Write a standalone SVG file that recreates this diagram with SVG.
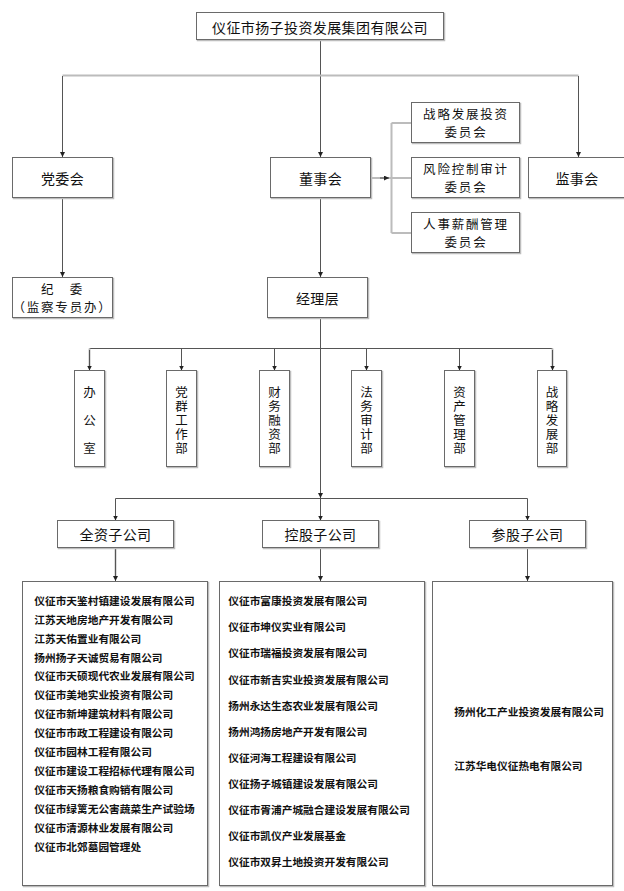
<svg xmlns="http://www.w3.org/2000/svg" width="624" height="891" viewBox="0 0 624 891">
<defs>
<style>
.bx{fill:#fff;stroke:#6a6a6a;stroke-width:1}
.sh{fill:none;stroke:#bdbdbd;stroke-width:1.5}
.t{font-family:"Noto Sans CJK SC","Noto Sans",sans-serif;font-size:14px;fill:#111;text-anchor:middle;dominant-baseline:central;letter-spacing:0.4px}
.t2{font-size:12.5px;letter-spacing:1.8px}
.v{font-family:"Noto Sans CJK SC","Noto Sans",sans-serif;font-size:12.5px;fill:#111;writing-mode:vertical-rl;text-orientation:upright;letter-spacing:1.65px}
.v3{letter-spacing:15.8px}
.l{font-family:"Noto Sans CJK SC","Noto Sans",sans-serif;font-size:10.7px;font-weight:bold;fill:#111;dominant-baseline:central}
.c{fill:none;stroke:#555;stroke-width:1}
.g{fill:none;stroke:#bcbcbc;stroke-width:2}
</style>
<marker id="a" markerUnits="userSpaceOnUse" markerWidth="6" markerHeight="6" refX="5" refY="2.5" orient="auto">
<path d="M0,0 L5,2.5 L0,5 z" fill="#222"/>
</marker>
</defs>
<rect width="624" height="891" fill="#fff"/>

<g id="connectors">
<path class="c" d="M320.5,40 V157" marker-end="url(#a)"/>
<path class="g" d="M62.5,75.5 H578.5"/>
<path class="c" d="M62.5,76 V157" marker-end="url(#a)"/>
<path class="c" d="M578.5,76 V157" marker-end="url(#a)"/>
<path class="g" d="M371,178 H391.5"/>
<path class="c" d="M380,178 H389" marker-end="url(#a)"/>
<path class="g" d="M391.5,123 V233 M391.5,123 H411.5 M391.5,178 H411.5 M391.5,233 H411.5"/>
<path class="c" d="M62.5,198.5 V277" marker-end="url(#a)"/>
<path class="c" d="M320.5,198.5 V277" marker-end="url(#a)"/>
<path class="c" d="M320.5,318.5 V498" marker-end="url(#a)"/>
<path class="c" d="M89.5,348.5 H552.5"/>
<path class="g" d="M89.5,348.5 V366"/>
<path class="c" d="M89.5,350 V370.5" marker-end="url(#a)"/>
<path class="c" d="M181.5,348.5 V370.5" marker-end="url(#a)"/>
<path class="c" d="M274.5,348.5 V370.5" marker-end="url(#a)"/>
<path class="c" d="M366.5,348.5 V370.5" marker-end="url(#a)"/>
<path class="c" d="M459.5,348.5 V370.5" marker-end="url(#a)"/>
<path class="g" d="M552.5,348.5 V366"/>
<path class="c" d="M552.5,350 V370.5" marker-end="url(#a)"/>
<path class="c" d="M115.5,498.5 H527.5"/>
<path class="c" d="M115.5,498.5 V520.5" marker-end="url(#a)"/>
<path class="c" d="M320.5,498.5 V520.5" marker-end="url(#a)"/>
<path class="c" d="M527.5,498.5 V520.5" marker-end="url(#a)"/>
<path class="g" d="M115.5,549 V576"/>
<path class="c" d="M115.5,549 V581" marker-end="url(#a)"/>
<path class="c" d="M320.5,549 V581" marker-end="url(#a)"/>
<path class="c" d="M527.5,549 V581" marker-end="url(#a)"/>
</g>

<g id="group">
<rect class="sh" x="197.5" y="13.5" width="247" height="27"/>
<rect class="bx" x="196.5" y="12.5" width="247" height="27"/>
<text class="t" x="320" y="26.5">仪征市扬子投资发展集团有限公司</text>
</g>

<g id="dangwei">
<rect class="sh" x="13.5" y="158.5" width="100" height="40"/>
<rect class="bx" x="12.5" y="157.5" width="100" height="40"/>
<text class="t" x="62.5" y="178">党委会</text>
</g>

<g id="dongshi">
<rect class="sh" x="271.5" y="158.5" width="100" height="40"/>
<rect class="bx" x="270.5" y="157.5" width="100" height="40"/>
<text class="t" x="320.5" y="178">董事会</text>
</g>

<g id="jianshi">
<rect class="sh" x="529.5" y="158.5" width="100" height="40"/>
<rect class="bx" x="528.5" y="157.5" width="100" height="40"/>
<text class="t" x="577" y="178">监事会</text>
</g>

<g id="cmt1">
<rect class="sh" x="412.5" y="103.5" width="108" height="40"/>
<rect class="bx" x="411.5" y="102.5" width="108" height="40"/>
<text class="t t2" x="466" y="113.5">战略发展投资</text>
<text class="t t2" x="466" y="131.7">委员会</text>
</g>

<g id="cmt2">
<rect class="sh" x="412.5" y="158.5" width="108" height="40"/>
<rect class="bx" x="411.5" y="157.5" width="108" height="40"/>
<text class="t t2" x="466" y="168.5">风险控制审计</text>
<text class="t t2" x="466" y="186.7">委员会</text>
</g>

<g id="cmt3">
<rect class="sh" x="412.5" y="213.5" width="108" height="40"/>
<rect class="bx" x="411.5" y="212.5" width="108" height="40"/>
<text class="t t2" x="466" y="223.5">人事薪酬管理</text>
<text class="t t2" x="466" y="241.7">委员会</text>
</g>

<g id="jiwei">
<rect class="sh" x="13.5" y="278.5" width="100" height="40"/>
<rect class="bx" x="12.5" y="277.5" width="100" height="40"/>
<text class="t t2" x="62.5" y="288.5">纪　委</text>
<text class="t t2" x="62.5" y="306.7">（监察专员办）</text>
</g>

<g id="jingli">
<rect class="sh" x="268.5" y="278.5" width="100" height="40"/>
<rect class="bx" x="267.5" y="277.5" width="100" height="40"/>
<text class="t" x="317.5" y="297.5">经理层</text>
</g>

<g id="d1">
<rect class="sh" x="75.5" y="371.5" width="30" height="96"/>
<rect class="bx" x="74.5" y="370.5" width="30" height="96"/>
<text class="v v3" x="89.5" y="385.5">办公室</text>
</g>
<g id="d2">
<rect class="sh" x="167.5" y="371.5" width="30" height="96"/>
<rect class="bx" x="166.5" y="370.5" width="30" height="96"/>
<text class="v" x="181.5" y="385.5">党群工作部</text>
</g>
<g id="d3">
<rect class="sh" x="260.5" y="371.5" width="30" height="96"/>
<rect class="bx" x="259.5" y="370.5" width="30" height="96"/>
<text class="v" x="274.5" y="385.5">财务融资部</text>
</g>
<g id="d4">
<rect class="sh" x="352.5" y="371.5" width="30" height="96"/>
<rect class="bx" x="351.5" y="370.5" width="30" height="96"/>
<text class="v" x="366.5" y="385.5">法务审计部</text>
</g>
<g id="d5">
<rect class="sh" x="445.5" y="371.5" width="30" height="96"/>
<rect class="bx" x="444.5" y="370.5" width="30" height="96"/>
<text class="v" x="459.5" y="385.5">资产管理部</text>
</g>
<g id="d6">
<rect class="sh" x="538.5" y="371.5" width="29" height="96"/>
<rect class="bx" x="537.5" y="370.5" width="29" height="96"/>
<text class="v" x="552" y="385.5">战略发展部</text>
</g>

<g id="s1">
<rect class="sh" x="58.5" y="521.5" width="116" height="27"/>
<rect class="bx" x="57.5" y="520.5" width="116" height="27"/>
<text class="t" x="115.5" y="534">全资子公司</text>
</g>
<g id="s2">
<rect class="sh" x="263.5" y="521.5" width="116" height="27"/>
<rect class="bx" x="262.5" y="520.5" width="116" height="27"/>
<text class="t" x="320.5" y="534">控股子公司</text>
</g>
<g id="s3">
<rect class="sh" x="470.5" y="521.5" width="116" height="27"/>
<rect class="bx" x="469.5" y="520.5" width="116" height="27"/>
<text class="t" x="527.5" y="534">参股子公司</text>
</g>

<g id="list1">
<rect class="sh" x="23.5" y="582.5" width="185" height="304"/>
<rect class="bx" x="22.5" y="581.5" width="185" height="304"/>
<text class="l" x="34.3" y="600">仪征市天鉴村镇建设发展有限公司</text>
<text class="l" x="34.3" y="619">江苏天地房地产开发有限公司</text>
<text class="l" x="34.3" y="638">江苏天佑置业有限公司</text>
<text class="l" x="34.3" y="657">扬州扬子天诚贸易有限公司</text>
<text class="l" x="34.3" y="675.9">仪征市天硕现代农业发展有限公司</text>
<text class="l" x="34.3" y="694.9">仪征市美地实业投资有限公司</text>
<text class="l" x="34.3" y="713.9">仪征市新坤建筑材料有限公司</text>
<text class="l" x="34.3" y="732.9">仪征市市政工程建设有限公司</text>
<text class="l" x="34.3" y="751.8">仪征市园林工程有限公司</text>
<text class="l" x="34.3" y="770.8">仪征市建设工程招标代理有限公司</text>
<text class="l" x="34.3" y="789.8">仪征市天扬粮食购销有限公司</text>
<text class="l" x="34.3" y="808.8">仪征市绿篱无公害蔬菜生产试验场</text>
<text class="l" x="34.3" y="827.7">仪征市清源林业发展有限公司</text>
<text class="l" x="34.3" y="846.7">仪征市北郊墓园管理处</text>
</g>

<g id="list2">
<rect class="sh" x="220.5" y="582.5" width="205" height="304"/>
<rect class="bx" x="219.5" y="581.5" width="205" height="304"/>
<text class="l" x="228.3" y="600.7">仪征市富康投资发展有限公司</text>
<text class="l" x="228.3" y="626.8">仪征市坤仪实业有限公司</text>
<text class="l" x="228.3" y="652.9">仪征市瑞福投资发展有限公司</text>
<text class="l" x="228.3" y="679">仪征市新吉实业投资发展有限公司</text>
<text class="l" x="228.3" y="705.1">扬州永达生态农业发展有限公司</text>
<text class="l" x="228.3" y="731.2">扬州鸿扬房地产开发有限公司</text>
<text class="l" x="228.3" y="757.3">仪征河海工程建设有限公司</text>
<text class="l" x="228.3" y="783.4">仪征扬子城镇建设发展有限公司</text>
<text class="l" x="228.3" y="809.5">仪征市胥浦产城融合建设发展有限公司</text>
<text class="l" x="228.3" y="835.6">仪征市凯仪产业发展基金</text>
<text class="l" x="228.3" y="861.7">仪征市双昇土地投资开发有限公司</text>
</g>

<g id="list3">
<rect class="sh" x="433.5" y="582.5" width="180" height="304"/>
<rect class="bx" x="432.5" y="581.5" width="180" height="304"/>
<text class="l" x="454.3" y="711">扬州化工产业投资发展有限公司</text>
<text class="l" x="454.3" y="765.7">江苏华电仪征热电有限公司</text>
</g>
</svg>
